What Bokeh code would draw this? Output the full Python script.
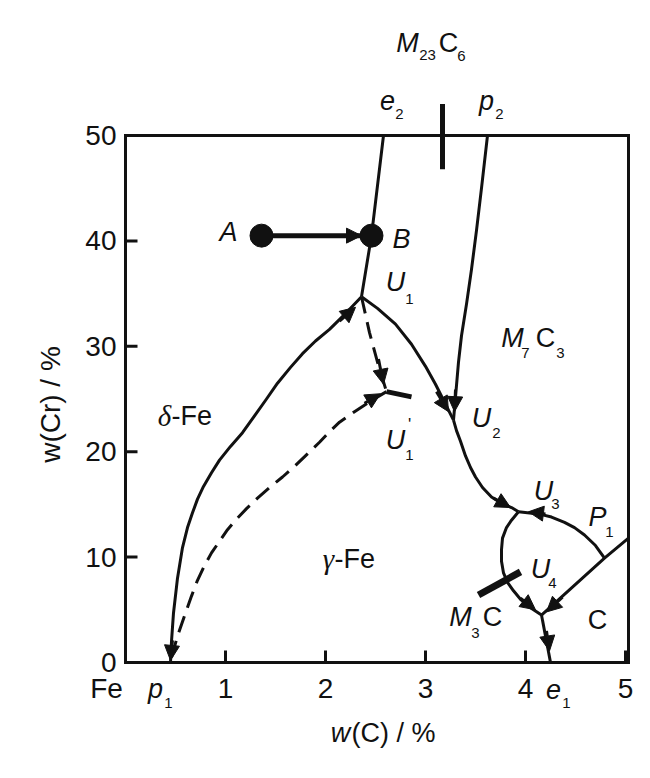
from math import pi
from bokeh.plotting import figure
from bokeh.models import Label, Arrow, NormalHead, ColumnDataSource, Range1d
from bokeh.core.properties import value
from bokeh.embed import file_html
from bokeh.resources import INLINE

FONT = "Liberation Sans"
SERIF = "Liberation Serif"
INK = "#111111"

# ---------------- data (w(C) %, w(Cr) %) ----------------
x_ticks = [1, 2, 3, 4, 5]
x_tick_labels = ["1", "2", "3", "4", "5"]
y_ticks = [0, 10, 20, 30, 40, 50]
y_tick_labels = ["0", "10", "20", "30", "40", "50"]
x_lim = [0, 5.03]
y_lim = [0, 50]

# delta-Fe boundary (solid), p1 -> U1
delta_x = [0.45, 0.46, 0.48, 0.52, 0.57, 0.62, 0.67, 0.72, 0.78, 0.86, 0.94, 1.05, 1.17,
           1.29, 1.41, 1.52, 1.65, 1.77, 1.90, 2.04, 2.21, 2.36]
delta_y = [0.0, 2.0, 4.7, 8.0, 10.9, 12.8, 14.2, 15.5, 16.7, 18.0, 19.2, 20.5, 21.8,
           23.4, 25.0, 26.5, 28.0, 29.3, 30.5, 31.6, 33.2, 34.7]

# metastable boundary (dashed), p1 -> U1'
gamma_x = [0.46, 0.52, 0.60, 0.66, 0.72, 0.79, 0.86, 0.94, 1.02, 1.11, 1.21, 1.32, 1.44,
           1.57, 1.70, 1.82, 1.94, 2.04, 2.14, 2.29, 2.45, 2.61]
gamma_y = [0.5, 2.5, 4.7, 6.3, 7.8, 9.2, 10.4, 11.5, 12.6, 13.6, 14.6, 15.6, 16.6,
           17.6, 18.7, 19.8, 20.9, 21.9, 22.8, 23.8, 24.8, 25.7]

# U1 -> U1' (dashed) and short tail beyond U1'
u1u1p_x = [2.36, 2.44, 2.52, 2.61]
u1u1p_y = [34.7, 31.3, 28.5, 25.7]
tail_x = [2.61, 2.86]
tail_y = [25.7, 25.2]

# e2 -> B -> U1
e2_x = [2.58, 2.46, 2.36]
e2_y = [50.0, 40.5, 34.7]

# p2 -> U2
p2_x = [3.62, 3.56, 3.51, 3.46, 3.41, 3.36, 3.33, 3.31, 3.28]
p2_y = [50.0, 45.0, 41.0, 37.3, 34.0, 31.0, 28.5, 26.3, 23.0]

# U1 -> U2
u1u2_x = [2.36, 2.52, 2.70, 2.86, 3.00, 3.10, 3.19, 3.28]
u1u2_y = [34.7, 33.6, 32.1, 30.2, 28.1, 26.4, 24.7, 23.0]

# U2 -> U3
u2u3_x = [3.28, 3.31, 3.35, 3.40, 3.45, 3.50, 3.57, 3.66, 3.76, 3.86, 3.93]
u2u3_y = [23.0, 22.0, 21.0, 19.6, 18.5, 17.6, 16.6, 15.7, 15.1, 14.7, 14.3]

# P1 -> U3
p1u3_x = [4.79, 4.70, 4.59, 4.49, 4.39, 4.26, 4.13, 3.93]
p1u3_y = [9.9, 11.1, 12.1, 12.8, 13.3, 13.8, 14.1, 14.3]

# C boundary: right edge -> P1 -> U4 node
c_x = [5.03, 4.79, 4.16]
c_y = [11.8, 9.9, 4.5]

# U3 -> U4 node (loop)
u3u4_x = [3.93, 3.86, 3.81, 3.77, 3.76, 3.76, 3.78, 3.82, 3.88, 3.95, 4.05, 4.16]
u3u4_y = [14.3, 13.5, 12.8, 11.8, 10.7, 9.6, 8.5, 7.6, 6.8, 6.0, 5.2, 4.5]

# U4 node -> e1
e1_x = [4.16, 4.25]
e1_y = [4.5, 0.0]

# M3C tie tick
m3c_x = [3.53, 3.95]
m3c_y = [6.4, 8.6]

# M23C6 tie tick (crosses the top edge)
m23_x = [3.17, 3.17]
m23_y = [46.8, 53.0]

# A -> B
ab_x = [1.36, 2.46]
ab_y = [40.5, 40.5]

# arrow heads (tail -> tip)
arr_x0 = [2.19, 2.14, 0.47, 2.53, 2.39, 3.11, 3.30, 3.68, 4.20, 3.95, 4.37, 4.21]
arr_y0 = [40.5, 32.4, 2.1, 28.8, 24.6, 25.7, 25.9, 15.6, 14.1, 6.1, 6.2, 3.0]
arr_x1 = [2.36, 2.30, 0.45, 2.58, 2.55, 3.23, 3.29, 3.85, 4.03, 4.10, 4.21, 4.24]
arr_y1 = [40.5, 33.7, 0.2, 26.4, 25.5, 23.8, 23.8, 14.7, 14.3, 5.0, 4.8, 1.1]

# ---------------- layout geometry (pixels) ----------------
W, H = 642, 770          # whole drawing area
X0, Y0 = 125, 662        # canvas pixel of the data origin
PX_X = 100.0             # pixels per 1 % C
PX_Y = 527.0 / 50.0      # pixels per 1 % Cr


def dx(px):   # canvas px -> data x
    return (px - X0) / PX_X


def dy(py):   # canvas py (from top) -> data y
    return (Y0 - py) / PX_Y


p = figure(frame_width=W, frame_height=H,
           x_range=Range1d(dx(0), dx(W)), y_range=Range1d(dy(H), dy(0)),
           x_axis_type=None, y_axis_type=None,
           min_border=0, min_border_left=0, min_border_right=0,
           min_border_top=0, min_border_bottom=0,
           output_backend="svg", toolbar_location=None,
           background_fill_color="white", border_fill_color="white")
p.grid.visible = False
p.outline_line_color = None

LW = 3
solid = dict(line_width=LW, line_color=INK, line_join="round")
dashed = dict(line_width=LW, line_color=INK, line_dash="17 9")

# frame box
p.quad(left=x_lim[0], right=x_lim[1], bottom=y_lim[0], top=y_lim[1],
       fill_color=None, line_color=INK, line_width=3, line_join="miter")

# inward ticks (12 px)
p.segment(x0=x_ticks, y0=[y_lim[0]] * len(x_ticks), x1=x_ticks,
          y1=[y_lim[0] + 12 / PX_Y] * len(x_ticks), line_width=3, line_color=INK)
p.segment(x0=[x_lim[0]] * len(y_ticks), y0=y_ticks, x1=[x_lim[0] + 12 / PX_X] * len(y_ticks),
          y1=y_ticks, line_width=3, line_color=INK)

# tick labels
p.text(x=x_ticks, y=[dy(688)] * len(x_ticks), text=x_tick_labels,
       text_font=value(FONT), text_font_size=value("28px"), text_color=INK,
       text_align="center", text_baseline="middle")
p.text(x=[dx(116)] * len(y_ticks), y=y_ticks, text=y_tick_labels,
       text_font=value(FONT), text_font_size=value("28px"), text_color=INK,
       text_align="right", text_baseline="middle")

# curves
p.line(delta_x, delta_y, **solid)
p.line(gamma_x, gamma_y, **dashed)
p.line(u1u1p_x, u1u1p_y, **dashed)
p.line(tail_x, tail_y, line_width=5, line_color=INK)
p.line(e2_x, e2_y, **solid)
p.line(p2_x, p2_y, **solid)
p.line(u1u2_x, u1u2_y, **solid)
p.line(u2u3_x, u2u3_y, **solid)
p.line(p1u3_x, p1u3_y, **solid)
p.line(c_x, c_y, **solid)
p.line(u3u4_x, u3u4_y, **solid)
p.line(e1_x, e1_y, **solid)
p.line(m3c_x, m3c_y, line_width=7, line_color=INK)
p.line(m23_x, m23_y, line_width=5, line_color=INK)
p.line(ab_x, ab_y, line_width=5, line_color=INK)
p.scatter(ab_x, ab_y, size=23, fill_color=INK, line_color=INK)

arr_src = ColumnDataSource(dict(x0=arr_x0, y0=arr_y0, x1=arr_x1, y1=arr_y1))
p.add_layout(Arrow(end=NormalHead(size=15, fill_color=INK, line_color=INK, line_width=1),
                   x_start="x0", y_start="y0", x_end="x1", y_end="y1",
                   source=arr_src, line_width=LW, line_color=INK))


def lab(x, y, t, size=27, italic=False, font=FONT, align="center", angle=0.0):
    p.add_layout(Label(x=x, y=y, text=t, text_font=font,
                       text_font_size=f"{size}px",
                       text_font_style="italic" if italic else "normal",
                       text_align=align, text_baseline="middle",
                       text_color=INK, angle=angle))


def labp(px, py, t, size=27, **kw):   # position given in canvas pixels
    lab(dx(px), dy(py), t, size, **kw)


SUB = 15
# points
lab(1.03, 40.8, "A", italic=True)
lab(2.76, 40.2, "B", italic=True)
# U1
lab(2.70, 36.1, "U", italic=True); lab(2.84, 34.5, "1", SUB)
# M7C3
lab(3.87, 30.8, "M", italic=True); lab(4.00, 29.4, "7", SUB)
lab(4.20, 30.8, "C"); lab(4.35, 29.4, "3", SUB)
# delta-Fe, gamma-Fe
lab(0.39, 23.4, "δ", 29, italic=True, font=SERIF); lab(0.46, 23.4, "-Fe", align="left")
lab(2.03, 9.8, "γ", 29, italic=True, font=SERIF); lab(2.09, 9.8, "-Fe", align="left")
# U1'
lab(2.70, 21.1, "U", italic=True); lab(2.84, 19.7, "1", SUB); lab(2.84, 22.6, "'", 17)
# U2, U3, P1, U4
lab(3.56, 23.2, "U", italic=True); lab(3.71, 21.8, "2", SUB)
lab(4.18, 16.3, "U", italic=True); lab(4.30, 15.0, "3", SUB)
lab(4.72, 13.8, "P", italic=True); lab(4.84, 12.4, "1", SUB)
lab(4.15, 8.9, "U", italic=True); lab(4.27, 7.5, "4", SUB)
# M3C, C
lab(3.35, 4.3, "M", italic=True); lab(3.50, 2.8, "3", SUB); lab(3.67, 4.3, "C")
lab(4.72, 4.0, "C")

# outside the box
labp(407, 42, "M", italic=True); labp(427, 54, "23", SUB)
labp(448, 42, "C"); labp(461, 55, "6", SUB)
labp(387, 100, "e", italic=True); labp(399, 113, "2", SUB)
labp(486, 100, "p", italic=True); labp(499, 113, "2", SUB)
labp(106, 688, "Fe", 28)
labp(155, 688, "p", italic=True); labp(168, 702, "1", SUB)
labp(553, 689, "e", italic=True); labp(566, 702, "1", SUB)
labp(340, 732, "w", italic=True); labp(351, 732, "(C) / %", align="left")
labp(50, 404, "w(Cr) / %", 28, angle=pi / 2)

open("out.html", "w").write(file_html(p, INLINE))
